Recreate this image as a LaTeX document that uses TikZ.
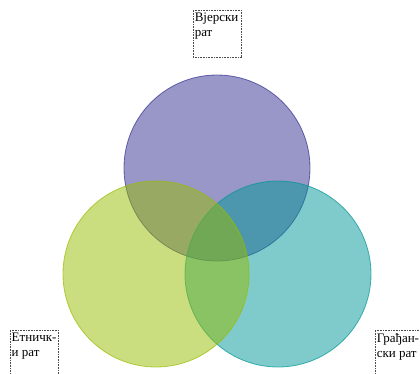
\documentclass[tikz,border=0pt]{standalone}
\usepackage{fontspec}
\setmainfont{Liberation Serif}
\definecolor{cpurple}{RGB}{51,47,145}
\definecolor{cgreen}{RGB}{150,188,0}
\definecolor{cteal}{RGB}{0,149,149}
\tikzset{
  venn/.style={circle, minimum size=186pt, inner sep=0pt, fill opacity=0.5, draw opacity=0.7, line width=0.8pt},
  lbox/.style={draw=black!70, dash pattern=on 0.8pt off 0.8pt, line width=0.5pt,
    anchor=north west, inner xsep=1.5pt, inner ysep=3pt, align=left, font=\fontsize{13}{15}\selectfont}
}
\newcommand{\boxtext}[1]{\parbox[t][41pt][t]{45pt}{#1}}
\begin{document}
\begin{tikzpicture}[x=1pt,y=-1pt]
\useasboundingbox (0,0) rectangle (420,373);
\clip (0,0) rectangle (420,373);
\node[venn, fill=cpurple, draw=cpurple] (top) at (217,168) {};
\node[venn, fill=cteal, draw=cteal] (right) at (278,274) {};
\node[venn, fill=cgreen, draw=cgreen] (left) at (156,274) {};
\node[lbox] (t1) at (193,10) {\boxtext{Вјерски\\рат}};
\node[lbox] (t2) at (10,330) {\boxtext{Етничк-\\и рат}};
\node[lbox] (t3) at (375,330) {\boxtext{Грађан-\\ски рат}};
\end{tikzpicture}
\end{document}
